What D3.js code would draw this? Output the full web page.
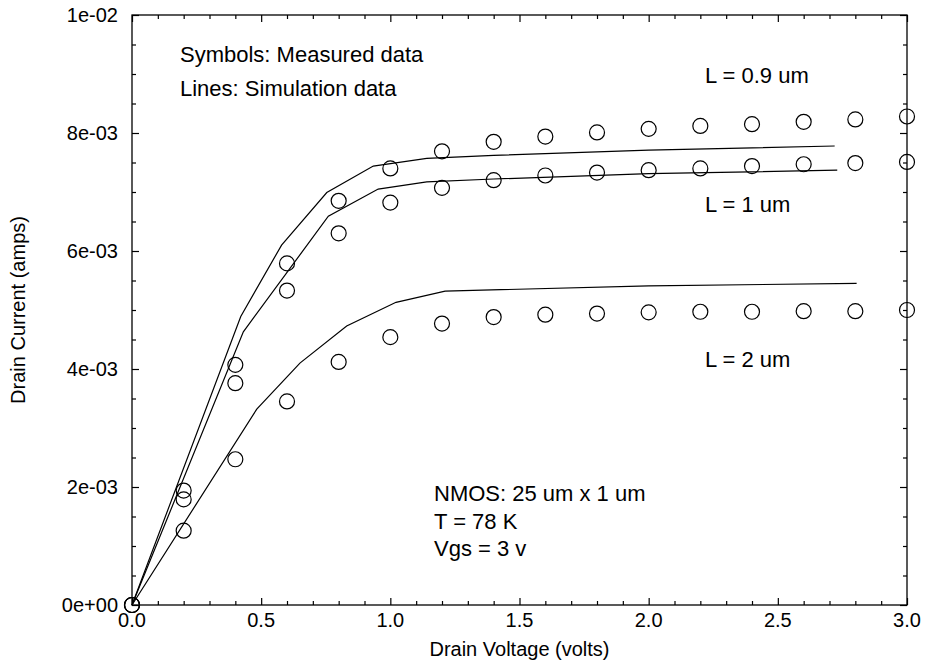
<!DOCTYPE html>
<html>
<head>
<meta charset="utf-8">
<script src="https://cdn.jsdelivr.net/npm/d3@7"></script>
<style>
  body { margin: 0; background: #fff; }
  svg { display: block; font-family: "Liberation Sans", Arial, sans-serif; }
</style>
</head>
<body>
<div id="chart"></div>
<script>
// measured drain voltage points (volts)
const vMeasured = [0, 0.2, 0.4, 0.6, 0.8, 1.0, 1.2, 1.4, 1.6, 1.8, 2.0, 2.2, 2.4, 2.6, 2.8, 3.0];
// measured drain current (mA) per gate length
const measL09 = [0, 1.94, 4.07, 5.79, 6.85, 7.40, 7.69, 7.85, 7.94, 8.01, 8.07, 8.12, 8.15, 8.19, 8.23, 8.28];
const measL1  = [0, 1.79, 3.76, 5.33, 6.30, 6.82, 7.07, 7.20, 7.28, 7.33, 7.37, 7.40, 7.44, 7.47, 7.49, 7.51];
const measL2  = [0, 1.26, 2.47, 3.45, 4.12, 4.54, 4.77, 4.88, 4.92, 4.94, 4.96, 4.97, 4.97, 4.98, 4.98, 5.00];

// simulation curves (volts, mA)
const simL09V = [0, 0.421, 0.579, 0.754, 0.934, 1.141, 1.4, 2.0, 2.72];
const simL09I = [0, 4.89, 6.10, 6.99, 7.44, 7.57, 7.62, 7.71, 7.78];
const simL1V  = [0, 0.431, 0.76, 0.953, 1.141, 1.4, 2.0, 2.73];
const simL1I  = [0, 4.63, 6.59, 7.05, 7.17, 7.22, 7.31, 7.37];
const simL2V  = [0, 0.483, 0.65, 0.831, 1.022, 1.212, 2.0, 2.805];
const simL2I  = [0, 3.32, 4.10, 4.73, 5.13, 5.32, 5.41, 5.45];

const xTickValues = [0, 0.5, 1.0, 1.5, 2.0, 2.5, 3.0];
const xTickLabels = ["0.0", "0.5", "1.0", "1.5", "2.0", "2.5", "3.0"];
const yTickValues = [0, 0.002, 0.004, 0.006, 0.008, 0.010];
const yTickLabels = ["0e+00", "2e-03", "4e-03", "6e-03", "8e-03", "1e-02"];

const curveLabels = ["L = 0.9 um", "L = 1 um", "L = 2 um"];
const noteTopLines = ["Symbols: Measured data", "Lines: Simulation data"];
const noteBottomLines = ["NMOS: 25 um x 1 um", "T = 78 K", "Vgs = 3 v"];

const W = 927, H = 671;
const margin = { top: 15, right: 20, bottom: 66, left: 132 };
const width = W - margin.left - margin.right;   // 775
const height = H - margin.top - margin.bottom;  // 590

const svg = d3.select("#chart").append("svg")
    .attr("width", W)
    .attr("height", H);

const g = svg.append("g")
    .attr("transform", "translate(" + margin.left + "," + margin.top + ")");

const xScale = d3.scaleLinear().domain([0, 3]).range([0, width]);
const yScale = d3.scaleLinear().domain([0, 0.01]).range([height, 0]);

const majorLen = 7, minorLen = 4;
const xMinor = d3.range(0, 31).map(d => d / 10).filter(d => !xTickValues.some(t => Math.abs(t - d) < 1e-9));
const yMinor = d3.range(0, 21).map(d => d * 0.0005).filter(d => !yTickValues.some(t => Math.abs(t - d) < 1e-12));

// frame
g.append("rect")
    .attr("x", 0).attr("y", 0)
    .attr("width", width).attr("height", height)
    .attr("fill", "none")
    .attr("stroke", "#000")
    .attr("stroke-width", 1.3);

// inward ticks on all four sides, built from d3 axes
function tickAxis(axisFn, scale, values, len, transform) {
    g.append("g")
        .attr("transform", transform)
        .call(axisFn(scale).tickValues(values).tickSize(len).tickFormat(""))
        .call(s => s.select(".domain").remove())
        .selectAll("line").attr("stroke", "#000").attr("stroke-width", 1.2);
}
tickAxis(d3.axisTop, xScale, xTickValues, majorLen, "translate(0," + height + ")");
tickAxis(d3.axisTop, xScale, xMinor, minorLen, "translate(0," + height + ")");
tickAxis(d3.axisBottom, xScale, xTickValues, majorLen, "translate(0,0)");
tickAxis(d3.axisBottom, xScale, xMinor, minorLen, "translate(0,0)");
tickAxis(d3.axisRight, yScale, yTickValues, majorLen, "translate(0,0)");
tickAxis(d3.axisRight, yScale, yMinor, minorLen, "translate(0,0)");
tickAxis(d3.axisLeft, yScale, yTickValues, majorLen, "translate(" + width + ",0)");
tickAxis(d3.axisLeft, yScale, yMinor, minorLen, "translate(" + width + ",0)");

// tick labels
g.append("g").selectAll("text")
    .data(xTickValues)
    .join("text")
    .attr("x", d => xScale(d))
    .attr("y", height + 22)
    .attr("text-anchor", "middle")
    .attr("font-size", 20)
    .text((d, i) => xTickLabels[i]);

g.append("g").selectAll("text")
    .data(yTickValues)
    .join("text")
    .attr("x", -14)
    .attr("y", d => yScale(d))
    .attr("dy", "0.35em")
    .attr("text-anchor", "end")
    .attr("font-size", 20)
    .text((d, i) => yTickLabels[i]);

// axis titles
g.append("text")
    .attr("x", width / 2)
    .attr("y", height + 51)
    .attr("text-anchor", "middle")
    .attr("font-size", 20)
    .text("Drain Voltage (volts)");

g.append("text")
    .attr("transform", "rotate(-90)")
    .attr("x", -height / 2)
    .attr("y", -107)
    .attr("text-anchor", "middle")
    .attr("font-size", 20)
    .text("Drain Current (amps)");

// simulation lines
const line = d3.line()
    .x(d => xScale(d[0]))
    .y(d => yScale(d[1] * 1e-3));

const sims = [
    d3.zip(simL09V, simL09I),
    d3.zip(simL1V, simL1I),
    d3.zip(simL2V, simL2I)
];
g.append("g").selectAll("path")
    .data(sims)
    .join("path")
    .attr("d", line)
    .attr("fill", "none")
    .attr("stroke", "#000")
    .attr("stroke-width", 1.2);

// measured symbols
const measured = [measL09, measL1, measL2];
measured.forEach(series => {
    g.append("g").selectAll("circle")
        .data(d3.zip(vMeasured, series))
        .join("circle")
        .attr("cx", d => xScale(d[0]))
        .attr("cy", d => yScale(d[1] * 1e-3))
        .attr("r", 7.5)
        .attr("fill", "none")
        .attr("stroke", "#000")
        .attr("stroke-width", 1.2);
});

// annotations
const noteSize = 22;
g.append("g").selectAll("text")
    .data(noteTopLines)
    .join("text")
    .attr("x", 48)
    .attr("y", (d, i) => 47 + i * 34)
    .attr("font-size", noteSize)
    .text(d => d);

const labelPos = [[7.55, 68], [7.55, 197], [7.55, 352]];
g.append("g").selectAll("text")
    .data(curveLabels)
    .join("text")
    .attr("x", 573)
    .attr("y", (d, i) => labelPos[i][1])
    .attr("font-size", noteSize)
    .text(d => d);

g.append("g").selectAll("text")
    .data(noteBottomLines)
    .join("text")
    .attr("x", 302)
    .attr("y", (d, i) => 486 + i * 27.7)
    .attr("font-size", noteSize)
    .text(d => d);
</script>
</body>
</html>
